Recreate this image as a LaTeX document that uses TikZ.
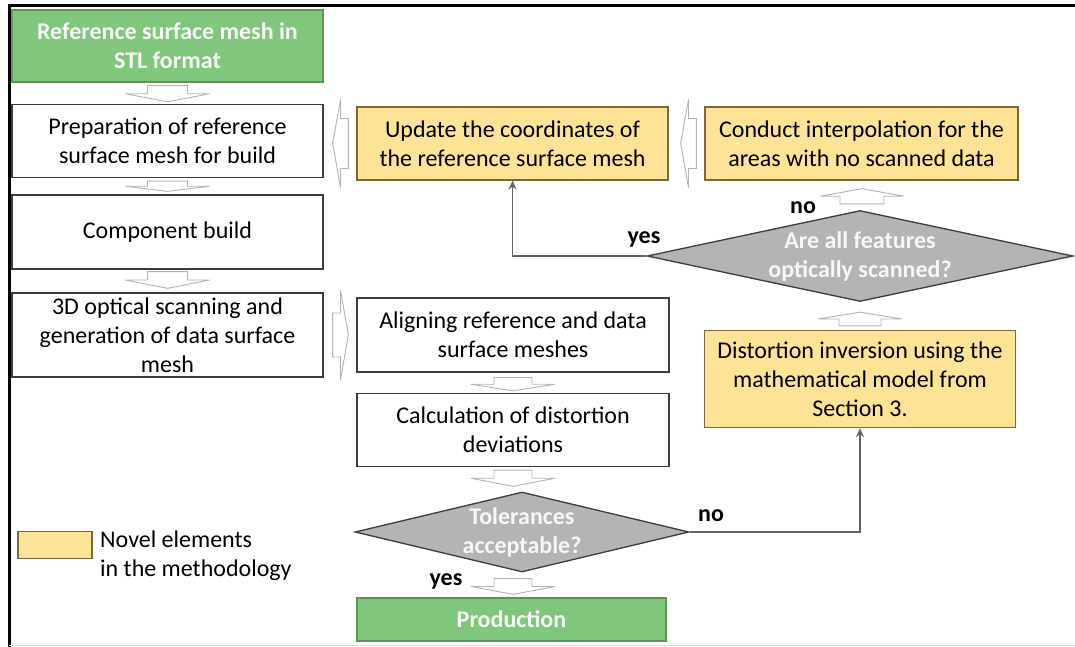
\documentclass[tikz,border=0pt]{standalone}
\usepackage{fontspec}
\setmainfont{Carlito}
\usetikzlibrary{shapes.geometric,calc,arrows.meta}
\definecolor{boxgreen}{RGB}{128,198,124}
\definecolor{greenline}{RGB}{92,150,88}
\definecolor{boxyellow}{RGB}{253,227,150}
\definecolor{yellowline}{RGB}{120,104,60}
\definecolor{diagray}{RGB}{180,180,180}
\definecolor{boxline}{RGB}{60,60,60}
\definecolor{hollowgray}{RGB}{180,180,180}
\definecolor{connline}{RGB}{100,100,100}
\tikzset{
  base/.style={rectangle, draw=boxline, line width=1.3pt, align=center, font=\fontsize{24}{29}\selectfont, inner sep=0pt},
  whitebox/.style={base, fill=white},
  greenbox/.style={base, fill=boxgreen, draw=greenline, text=white!95!gray, font=\bfseries\fontsize{24}{29}\selectfont},
  yellowbox/.style={base, fill=boxyellow, draw=yellowline},
  decision/.style={diamond, draw=boxline, line width=1.3pt, fill=diagray, align=center, inner sep=-10pt, text=white!94!gray, font=\bfseries\fontsize{24}{29}\selectfont},
  hollow/.style={draw=hollowgray, line width=0.9pt, fill=white, line join=miter},
  conn/.style={draw=connline, line width=1.6pt, -{Stealth[length=9pt,width=8pt]}},
  lbl/.style={font=\bfseries\fontsize{24}{24}\selectfont, inner sep=0pt}
}
% vertical hollow block arrow: tail, tip, shaft half width, head half width
\newcommand\blockv[4]{\draw[hollow] let \p1=(#1), \p2=(#2), \n1={0.5*(\y2-\y1)} in
  (\x1-#3,\y1) -- (\x1+#3,\y1) -- (\x1+#3,\y1+\n1) -- (\x1+#4,\y1+\n1) -- (\x1,\y2) -- (\x1-#4,\y1+\n1) -- (\x1-#3,\y1+\n1) -- cycle;}
% horizontal hollow block arrow
\newcommand\blockh[4]{\draw[hollow] let \p1=(#1), \p2=(#2), \n1={0.5*(\x2-\x1)} in
  (\x1,\y1-#3) -- (\x1,\y1+#3) -- (\x1+\n1,\y1+#3) -- (\x1+\n1,\y1+#4) -- (\x2,\y1) -- (\x1+\n1,\y1-#4) -- (\x1+\n1,\y1-#3) -- cycle;}
\begin{document}
\begin{tikzpicture}[x=1pt,y=-1pt]
\useasboundingbox (0,0) rectangle (1075,647);
% frame
\draw[line width=3pt, black] (9,647) -- (9,6) -- (1075,6);
\draw[line width=0.8pt, black!15] (9,645) -- (1075,645);

% left column
\node[greenbox, minimum width=311, minimum height=72] (ref) at (167.5,46) {Reference surface mesh in\\STL format};
\node[whitebox, minimum width=311, minimum height=73] (prep) at (167.5,141) {Preparation of reference\\surface mesh for build};
\node[whitebox, minimum width=311, minimum height=74] (comp) at (167.5,232) {Component build};
\node[whitebox, minimum width=311, minimum height=84] (scan) at (167.5,335) {3D optical scanning and\\generation of data surface\\mesh};

% middle column
\node[yellowbox, minimum width=311, minimum height=73] (update) at (512.5,143.5) {Update the coordinates of\\the reference surface mesh};
\node[whitebox, minimum width=312, minimum height=74] (align) at (513,335) {Aligning reference and data\\surface meshes};
\node[whitebox, minimum width=312, minimum height=73] (calc) at (513,430) {Calculation of distortion\\deviations};
\node[decision, aspect=4.2, minimum width=334, minimum height=80] (tol) at (522,532) {Tolerances\\acceptable?};
\node[greenbox, minimum width=309, minimum height=43] (prod) at (511.5,619.5) {Production};

% right column
\node[yellowbox, minimum width=313, minimum height=73] (conduct) at (861.5,143.5) {Conduct interpolation for the\\areas with no scanned data};
\node[decision, aspect=4.68, minimum width=426, minimum height=91] (feat) at (860,256) {Are all features\\optically scanned?};
\node[yellowbox, minimum width=311, minimum height=97] (distort) at (860,379) {Distortion inversion using the\\mathematical model from\\Section 3.};

% legend
\node[yellowbox, minimum width=74, minimum height=27] (legbox) at (55,545) {};
\node[anchor=north west, align=left, inner sep=0pt, font=\fontsize{24}{29}\selectfont] (legtext) at (100,531) {Novel elements\\in the methodology};

% hollow block arrows
\blockv{$(ref.south)+(0,3)$}{$(prep.north)+(0,-2)$}{20pt}{42pt}
\blockv{$(prep.south)+(0,3)$}{$(comp.north)+(0,-3)$}{20pt}{42pt}
\blockv{$(comp.south)+(0,2)$}{$(scan.north)+(0,-4)$}{20pt}{42pt}
\blockh{$(scan.east)+(9,0)$}{$(align.west)+(-8,0)$}{22pt}{45pt}
\blockh{$(update.west)+(-8,0)$}{$(prep.east)+(9,0)$}{25pt}{44pt}
\blockh{$(conduct.west)+(-8,0)$}{$(update.east)+(12,0)$}{25pt}{44pt}
\blockv{$(align.south)+(0,5)$}{$(calc.north)+(0,-2)$}{19pt}{42pt}
\blockv{$(calc.south)+(0,3)$}{$(tol.north)+(-9,-5)$}{19pt}{42pt}
\blockv{$(tol.south)+(-9,6)$}{$(prod.north)+(0,-3)$}{19pt}{42pt}
\blockv{$(distort.north)+(0,-4)$}{$(feat.south)+(0,10)$}{21pt}{42pt}
\blockv{$(feat.north)+(2,-6)$}{$(conduct.south)+(2,8)$}{22pt}{42pt}

% connectors
\draw[conn] (tol.east) -| (distort.south);
\draw[conn] (feat.west) -| (update.south);

% labels
\node[lbl] (no1) at (711,516) {no};
\node[lbl] (no2) at (803,208) {no};
\node[lbl] (yes1) at (644,239) {yes};
\node[lbl] (yes2) at (446,581) {yes};
\end{tikzpicture}
\end{document}
